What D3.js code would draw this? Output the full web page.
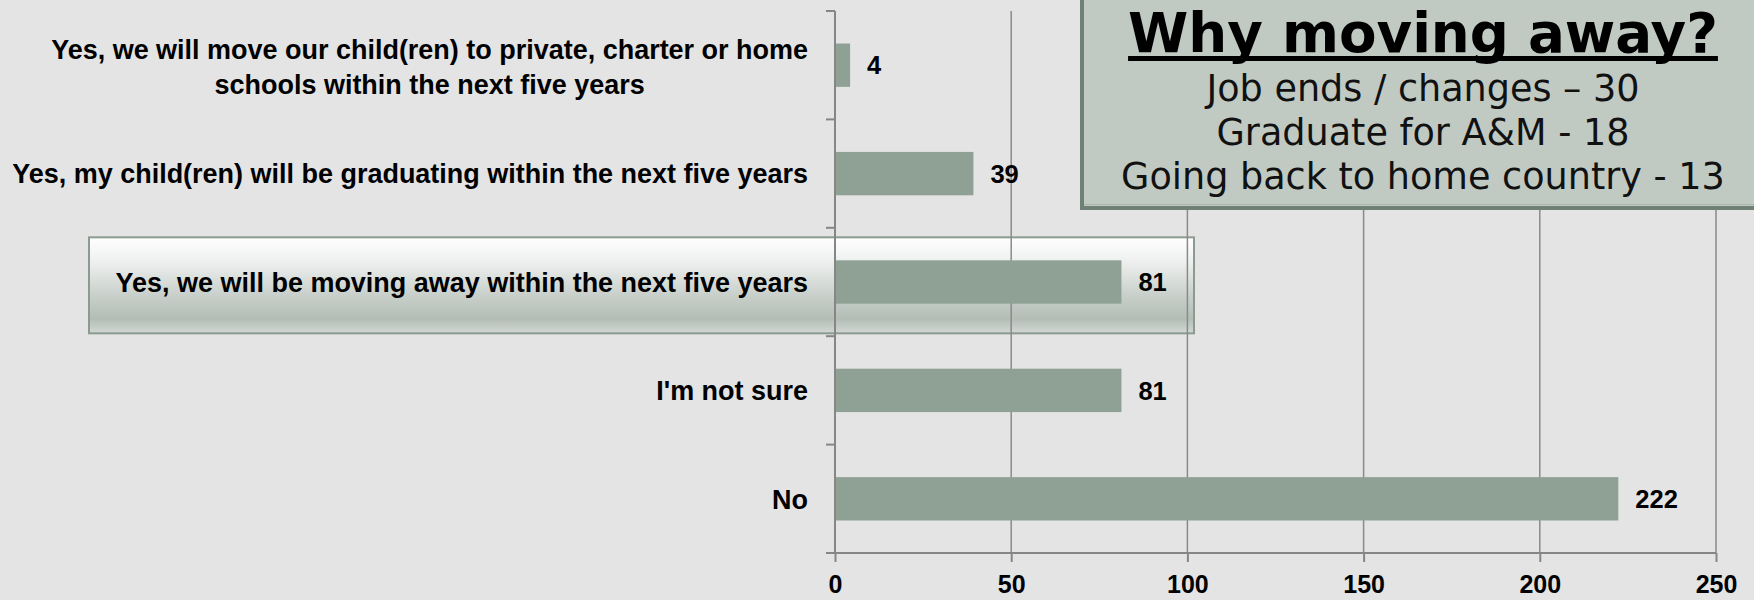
<!DOCTYPE html>
<html>
<head>
<meta charset="utf-8">
<script src="https://cdn.jsdelivr.net/npm/d3@7"></script>
<style>
  html, body { margin: 0; padding: 0; background: #e4e4e4; }
  svg { display: block; }
</style>
</head>
<body>
<svg id="chart" width="1754" height="600"></svg>
<script>
// ---- data ----
const categories = [
  "Yes, we will move our child(ren) to private, charter or home schools within the next five years",
  "Yes, my child(ren) will be graduating within the next five years",
  "Yes, we will be moving away within the next five years",
  "I'm not sure",
  "No"
];
const categoryLines = [
  ["Yes, we will move our child(ren) to private, charter or home", "schools within the next five years"],
  ["Yes, my child(ren) will be graduating within the next five years"],
  ["Yes, we will be moving away within the next five years"],
  ["I'm not sure"],
  ["No"]
];
const values = [4, 39, 81, 81, 222];
const xTicks = [0, 50, 100, 150, 200, 250];
const highlighted = "Yes, we will be moving away within the next five years";
const boxTitle = "Why moving away?";
const boxLines = ["Job ends / changes \u2013 30", "Graduate for A&M - 18", "Going back to home country - 13"];

// ---- layout ----
const W = 1754, H = 600;
const svg = d3.select("#chart");
const FONT = "'Liberation Sans', Arial, sans-serif";
const BOXFONT = "'DejaVu Sans', sans-serif";

const x = d3.scaleLinear().domain([0, 250]).range([835, 1716]);
const y = d3.scaleBand().domain(categories).range([11, 553]).paddingInner(0.6).paddingOuter(0.3);

// background
svg.append("rect").attr("width", W).attr("height", H).attr("fill", "#e4e4e4");

// highlight box gradient
const defs = svg.append("defs");
const g1 = defs.append("linearGradient").attr("id", "hl").attr("x1", 0).attr("y1", 0).attr("x2", 0).attr("y2", 1);
[[0, "#ffffff"], [0.25, "#eef0ef"], [0.6, "#c9d0cb"], [0.85, "#b3bdb6"], [1, "#d3d9d5"]].forEach(([o, c]) =>
  g1.append("stop").attr("offset", o).attr("stop-color", c));

const hb = y(highlighted);
svg.append("rect")
  .attr("x", 89).attr("y", hb - 23)
  .attr("width", 1105).attr("height", 96)
  .attr("fill", "url(#hl)")
  .attr("stroke", "#8c9b90").attr("stroke-width", 2);

// gridlines
svg.append("g").selectAll("line").data(xTicks.slice(1)).join("line")
  .attr("x1", d => x(d)).attr("x2", d => x(d))
  .attr("y1", 11).attr("y2", 553)
  .attr("stroke", "#8a8a8a").attr("stroke-width", 1.5);

// x axis
const xAxis = d3.axisBottom(x).tickValues(xTicks).tickSize(9).tickSizeOuter(0).tickPadding(8);
const gx = svg.append("g").attr("transform", "translate(0,553)").call(xAxis);
gx.select(".domain").attr("stroke", "#868686").attr("stroke-width", 2).attr("d", "M826,0H" + x(250));
gx.selectAll(".tick line").attr("stroke", "#868686").attr("stroke-width", 2);
gx.selectAll(".tick text")
  .attr("fill", "#000").attr("font-family", FONT).attr("font-weight", "bold")
  .attr("font-size", 25).attr("y", 22).attr("dy", "0.71em");

// y axis line + category ticks at band boundaries
const boundaries = d3.range(categories.length + 1).map(i => 11 + i * (542 / categories.length));
svg.append("line").attr("x1", 835).attr("x2", 835).attr("y1", 11).attr("y2", 553)
  .attr("stroke", "#868686").attr("stroke-width", 2);
svg.append("g").selectAll("line").data(boundaries).join("line")
  .attr("x1", 826).attr("x2", 835).attr("y1", d => d).attr("y2", d => d)
  .attr("stroke", "#868686").attr("stroke-width", 2);

// bars
svg.append("g").selectAll("rect").data(values).join("rect")
  .attr("x", x(0) + 1)
  .attr("y", (d, i) => y(categories[i]))
  .attr("width", d => x(d) - x(0))
  .attr("height", y.bandwidth())
  .attr("fill", "#8fa195");

// value labels
svg.append("g").selectAll("text").data(values).join("text")
  .attr("x", d => x(d) + 18)
  .attr("y", (d, i) => y(categories[i]) + y.bandwidth() / 2)
  .attr("dy", "0.36em")
  .attr("font-family", FONT).attr("font-weight", "bold").attr("font-size", 25.5)
  .attr("fill", "#000")
  .text(d => d);

// category labels
const catG = svg.append("g").attr("font-family", FONT).attr("font-weight", "bold").attr("fill", "#000");
const probe = catG.append("text").attr("font-size", 20).text(categoryLines[1][0]);
const catSize = 20 * 796 / probe.node().getComputedTextLength();
probe.remove();
const rightEdge = 808;
categoryLines.forEach((lines, i) => {
  const cy = y(categories[i]) + y.bandwidth() / 2;
  if (lines.length === 1) {
    catG.append("text").attr("x", rightEdge).attr("y", cy).attr("dy", "0.36em")
      .attr("text-anchor", "end").attr("font-size", catSize).text(lines[0]);
  } else {
    const t0 = catG.append("text").attr("font-size", catSize).text(lines[0]);
    const w0 = t0.node().getComputedTextLength();
    const cx = rightEdge - w0 / 2;
    t0.attr("x", cx).attr("text-anchor", "middle").attr("y", cy - 15.5).attr("dy", "0.36em");
    catG.append("text").attr("x", cx).attr("y", cy + 19.5).attr("dy", "0.36em")
      .attr("text-anchor", "middle").attr("font-size", catSize).text(lines[1]);
  }
});

// title box
svg.append("rect")
  .attr("x", 1082).attr("y", -20).attr("width", 720).attr("height", 228)
  .attr("fill", "#c0cac3").attr("stroke", "#6f8074").attr("stroke-width", 4);
svg.append("line").attr("x1", 1084).attr("x2", 1760).attr("y1", 204.5).attr("y2", 204.5)
  .attr("stroke", "#a9b5ad").attr("stroke-width", 1);

const boxCx = 1423;
const tt = svg.append("text").attr("font-family", BOXFONT).attr("font-weight", "bold")
  .attr("font-size", 56).attr("text-anchor", "middle").attr("fill", "#000")
  .attr("x", boxCx).text(boxTitle);
const ttSize = 56 * 590 / tt.node().getComputedTextLength();
const ascent = 0.93 * ttSize;
const titleBase = Math.ceil(ascent) + 1;
tt.attr("font-size", ttSize).attr("y", titleBase);
const ttW = tt.node().getComputedTextLength();
svg.append("line").attr("x1", boxCx - ttW / 2).attr("x2", boxCx + ttW / 2)
  .attr("y1", titleBase + 6.5).attr("y2", titleBase + 6.5).attr("stroke", "#000").attr("stroke-width", 5);

const bp = svg.append("text").attr("font-family", BOXFONT).attr("font-size", 30).text(boxLines[2]);
const bodySize = 30 * 604 / bp.node().getComputedTextLength();
bp.remove();
svg.append("g").selectAll("text").data(boxLines).join("text")
  .attr("x", boxCx).attr("y", (d, i) => 101 + i * 44)
  .attr("text-anchor", "middle").attr("font-family", BOXFONT)
  .attr("font-size", bodySize).attr("fill", "#111")
  .text(d => d);
</script>
</body>
</html>
